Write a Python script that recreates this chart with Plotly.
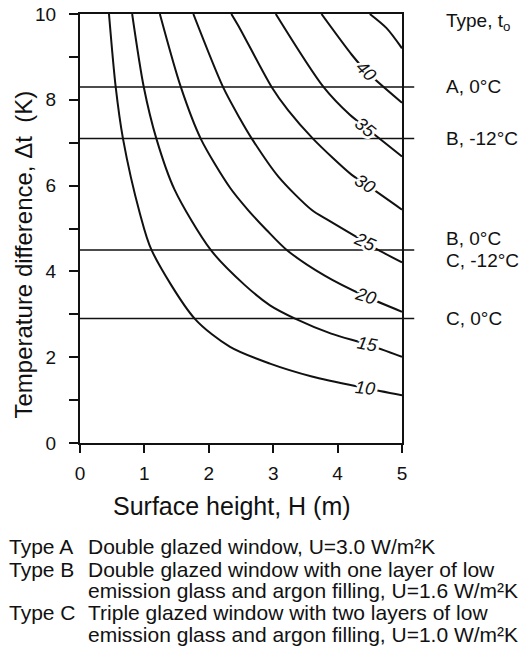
import plotly.graph_objects as go

# ---- data ----
curve_labels = ["10", "15", "20", "25", "30", "35", "40", ""]
curve_x = [
    [0.45, 0.554, 0.668, 0.93, 1.11, 1.78, 2.33, 2.95, 3.6, 4.43, 5.0],
    [0.81, 0.99, 1.187, 1.47, 2.03, 2.56, 2.95, 3.34, 3.9, 4.46, 5.0],
    [1.24, 1.565, 1.876, 2.33, 2.61, 2.9, 3.21, 3.8, 4.43, 5.0],
    [1.76, 2.22, 2.48, 2.67, 3.08, 3.6, 3.86, 4.43, 4.63, 5.0],
    [2.35, 2.48, 2.975, 3.23, 3.62, 4.22, 4.43, 5.0],
    [3.04, 3.78, 4.19, 4.44, 5.0],
    [3.75, 4.22, 4.44, 5.0],
    [4.5, 4.76, 5.0],
]
curve_y = [
    [10, 8.3, 7.09, 5.35, 4.5, 2.9, 2.24, 1.85, 1.55, 1.28, 1.11],
    [10, 8.3, 7.09, 5.9, 4.5, 3.68, 3.21, 2.9, 2.55, 2.30, 2.01],
    [10, 8.3, 7.09, 5.95, 5.43, 4.96, 4.5, 3.9, 3.42, 3.06],
    [10, 8.3, 7.57, 7.09, 6.21, 5.43, 5.19, 4.68, 4.5, 4.21],
    [10, 9.67, 8.3, 7.76, 7.09, 6.25, 6.04, 5.44],
    [10, 8.3, 7.65, 7.35, 6.68],
    [10, 9.05, 8.67, 7.93],
    [10, 9.67, 9.2],
]
# label positions on the curves (x, y) and rotation
label_x = [4.43, 4.46, 4.43, 4.43, 4.43, 4.44, 4.44]
label_y = [1.28, 2.30, 3.42, 4.68, 6.04, 7.35, 8.67]
label_angle = [6, 10, 17, 24, 33, 40, 45]

# horizontal reference lines (window type, outdoor temperature)
line_values = [8.3, 7.1, 4.5, 2.9]
type_labels = ["A, 0°C", "B, -12°C", "B, 0°C", "C, -12°C", "C, 0°C"]
type_label_y = [8.3, 7.1, 4.5, 4.5, 2.9]
type_label_shift = [0, 0, 11, -11, 0]

y_ticks = [0, 2, 4, 6, 8, 10]
x_ticks = [0, 1, 2, 3, 4, 5]

legend_types = ["Type A", "Type B", "", "Type C", ""]
legend_texts = [
    "Double glazed window, U=3.0 W/m²K",
    "Double glazed window with one layer of low",
    "emission glass and argon filling, U=1.6 W/m²K",
    "Triple glazed window with two layers of low",
    "emission glass and argon filling, U=1.0 W/m²K",
]

FONT = "Liberation Sans, Arial, Helvetica, sans-serif"
INK = "#111111"

fig = go.Figure()
for xs, ys in zip(curve_x, curve_y):
    fig.add_trace(go.Scatter(x=xs, y=ys, mode="lines",
                             line=dict(color=INK, width=2, shape="spline", smoothing=0.8),
                             hoverinfo="skip", showlegend=False))

halo = ", ".join(f"{dx}px {dy}px 0 white" for dx, dy in
                 [(3, 0), (-3, 0), (0, 3), (0, -3), (2, 2), (-2, -2), (2, -2), (-2, 2)])

annotations = []
for t, lx, ly, ang in zip(curve_labels, label_x, label_y, label_angle):
    annotations.append(dict(x=lx, y=ly, xref="x", yref="y", text=t, showarrow=False,
                            textangle=ang, xanchor="center", yanchor="middle",
                            font=dict(family=FONT, size=18, color=INK, style="italic",
                                      shadow=halo)))

shapes = []
for v in line_values:
    shapes.append(dict(type="line", xref="paper", yref="y", x0=0, x1=1.038, y0=v, y1=v,
                       line=dict(color=INK, width=1.5), layer="above"))

for t, v, s in zip(type_labels, type_label_y, type_label_shift):
    annotations.append(dict(x=1.131, y=v, xref="paper", yref="y", yshift=s, text=t,
                            showarrow=False, xanchor="left", yanchor="middle",
                            font=dict(family=FONT, size=19, color=INK)))
annotations.append(dict(x=1.131, y=0.982, xref="paper", yref="paper",
                        text="Type, t<sub>o</sub>", showarrow=False,
                        xanchor="left", yanchor="middle",
                        font=dict(family=FONT, size=19, color=INK)))

# axis titles
annotations.append(dict(x=0.4717, y=-0.148, xref="paper", yref="paper",
                        text="Surface height, H (m)", showarrow=False,
                        xanchor="center", yanchor="middle",
                        font=dict(family=FONT, size=25, color=INK)))
annotations.append(dict(x=-0.1755, y=0.4405, xref="paper", yref="paper",
                        text="Temperature difference, Δt  (K)", showarrow=False,
                        textangle=-90, xanchor="center", yanchor="middle",
                        font=dict(family=FONT, size=24, color=INK)))

# explanatory text below
row_y = [-0.2411, -0.2948, -0.3438, -0.3952, -0.4466]
for t, d, yy in zip(legend_types, legend_texts, row_y):
    if t:
        annotations.append(dict(x=-0.2253, y=yy, xref="paper", yref="paper", text=t,
                                showarrow=False, xanchor="left", yanchor="middle",
                                font=dict(family=FONT, size=21, color=INK)))
    annotations.append(dict(x=0.0174, y=yy, xref="paper", yref="paper", text=d,
                            showarrow=False, xanchor="left", yanchor="middle",
                            font=dict(family=FONT, size=21, color=INK)))

fig.update_layout(
    width=520, height=648,
    margin=dict(l=80, r=118, t=14, b=205, autoexpand=False),
    paper_bgcolor="white", plot_bgcolor="white",
    font=dict(family=FONT, color=INK),
    shapes=shapes, annotations=annotations,
    xaxis=dict(range=[0, 5], tickvals=x_ticks, ticktext=[str(v) for v in x_ticks],
               showgrid=False, zeroline=False, showline=True, linecolor=INK, linewidth=2,
               mirror=True, ticks="outside", ticklen=8, tickwidth=1.5, tickcolor=INK,
               automargin=False,
               ticklabelstandoff=4, tickfont=dict(family=FONT, size=19, color=INK)),
    yaxis=dict(range=[0, 10], tickvals=y_ticks, ticktext=[str(v) for v in y_ticks],
               showgrid=False, zeroline=False, showline=True, linecolor=INK, linewidth=2,
               mirror=True, ticks="outside", ticklen=9, tickwidth=1.5, tickcolor=INK,
               automargin=False,
               minor=dict(dtick=1, ticks="outside", ticklen=9, tickwidth=1.5, tickcolor=INK),
               ticklabelstandoff=9, tickfont=dict(family=FONT, size=19, color=INK)),
)

fig.write_html("out.html",
               config={"displayModeBar": False},
               post_script="document.body.style.margin='0';"
                           "document.body.style.overflow='hidden';")
